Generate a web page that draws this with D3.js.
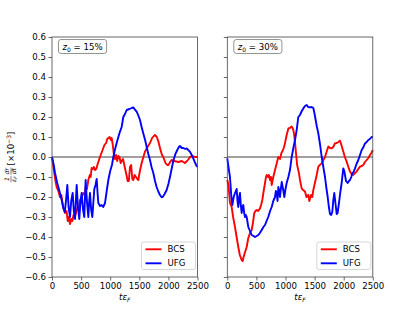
<!DOCTYPE html>
<html>
<head>
<meta charset="utf-8">
<script src="https://cdn.jsdelivr.net/npm/d3@7"></script>
<style>
  html, body { margin: 0; padding: 0; background: #fff; }
  svg { display: block; font-family: "DejaVu Sans", sans-serif; }
</style>
</head>
<body>
<div id="chart"></div>
<script>
// ---- data ----
var xTicks = [0, 500, 1000, 1500, 2000, 2500];
var yTicks = [-0.6, -0.5, -0.4, -0.3, -0.2, -0.1, 0.0, 0.1, 0.2, 0.3, 0.4, 0.5, 0.6];
var panelLabels = ["15%", "30%"];
var seriesNames = ["BCS", "UFG"];
var seriesColors = ["#ff0000", "#0000ff"];

// z0 = 15%
var bcs15 = [[0,0],[30,-0.06],[60,-0.12],[80,-0.15],[110,-0.17],[137,-0.2],[160,-0.19],[190,-0.25],[223,-0.28],[250,-0.27],[270,-0.32],[290,-0.3],[309,-0.335],[330,-0.31],[350,-0.32],[370,-0.29],[395,-0.3],[420,-0.27],[440,-0.25],[460,-0.26],[481,-0.215],[500,-0.23],[520,-0.19],[538,-0.18],[560,-0.19],[580,-0.15],[600,-0.16],[624,-0.115],[650,-0.09],[665,-0.1],[681,-0.055],[700,-0.06],[720,-0.05],[739,-0.065],[760,-0.06],[790,-0.03],[825,0],[850,0.02],[882,0.045],[900,0.06],[930,0.07],[950,0.09],[968,0.095],[990,0.1],[1010,0.085],[1025,0.095],[1045,0.06],[1060,0.02],[1082,-0.01],[1100,0.01],[1120,-0.02],[1140,0.005],[1160,0.0],[1180,-0.03],[1197,-0.02],[1220,-0.01],[1250,-0.05],[1280,-0.09],[1300,-0.12],[1320,-0.12],[1340,-0.05],[1360,-0.04],[1380,-0.11],[1397,-0.115],[1420,-0.09],[1443,-0.1],[1465,-0.11],[1483,-0.115],[1510,-0.07],[1541,-0.03],[1570,0],[1598,0.027],[1640,0.05],[1684,0.07],[1720,0.095],[1750,0.105],[1769,0.11],[1800,0.1],[1826,0.08],[1860,0.04],[1890,0.01],[1912,0],[1950,-0.03],[1980,-0.04],[2000,-0.04],[2030,-0.025],[2055,-0.015],[2100,-0.02],[2170,-0.025],[2230,-0.02],[2284,-0.03],[2320,-0.02],[2350,-0.01],[2370,0],[2420,0.005],[2460,0],[2500,0]];
var ufg15 = [[0,0],[30,-0.04],[52,-0.08],[90,-0.13],[137,-0.18],[170,-0.22],[195,-0.255],[220,-0.275],[240,-0.22],[263,-0.14],[285,-0.25],[309,-0.3],[330,-0.22],[355,-0.18],[375,-0.27],[395,-0.31],[410,-0.22],[424,-0.14],[445,-0.25],[469,-0.31],[490,-0.22],[510,-0.18],[532,-0.26],[555,-0.3],[567,-0.2],[578,-0.115],[600,-0.22],[624,-0.3],[640,-0.22],[653,-0.18],[672,-0.26],[693,-0.3],[712,-0.22],[727,-0.16],[748,-0.14],[768,-0.11],[783,-0.18],[796,-0.23],[825,-0.245],[853,-0.24],[880,-0.25],[911,-0.23],[940,-0.17],[968,-0.115],[1000,-0.07],[1030,-0.04],[1054,0],[1080,0.035],[1111,0.07],[1140,0.1],[1168,0.127],[1197,0.15],[1225,0.2],[1254,0.215],[1283,0.235],[1330,0.24],[1370,0.245],[1397,0.248],[1430,0.235],[1455,0.227],[1480,0.21],[1512,0.185],[1540,0.15],[1569,0.118],[1600,0.085],[1627,0.05],[1655,0.015],[1684,-0.015],[1710,-0.05],[1741,-0.08],[1770,-0.12],[1798,-0.15],[1830,-0.175],[1855,-0.19],[1880,-0.2],[1901,-0.2],[1935,-0.185],[1970,-0.165],[2000,-0.135],[2027,-0.1],[2055,-0.06],[2084,-0.02],[2120,0.015],[2153,0.035],[2180,0.05],[2199,0.055],[2230,0.045],[2256,0.045],[2290,0.04],[2314,0.043],[2340,0.035],[2370,0.027],[2400,0.01],[2427,-0.007],[2460,-0.03],[2485,-0.045],[2500,-0.05]];

// z0 = 30%
var bcs30 = [[0,-0.115],[20,-0.14],[46,-0.23],[75,-0.25],[100,-0.3],[132,-0.35],[160,-0.4],[189,-0.45],[215,-0.49],[247,-0.515],[265,-0.52],[275,-0.505],[300,-0.48],[333,-0.45],[361,-0.405],[390,-0.38],[419,-0.365],[440,-0.33],[464,-0.28],[485,-0.27],[505,-0.265],[530,-0.27],[562,-0.257],[580,-0.24],[601,-0.215],[625,-0.17],[648,-0.13],[665,-0.1],[677,-0.09],[700,-0.1],[715,-0.09],[734,-0.115],[750,-0.1],[763,-0.14],[790,-0.1],[820,-0.065],[850,-0.03],[877,0],[906,-0.01],[930,0.02],[945,0.027],[970,0.045],[992,0.07],[1020,0.11],[1049,0.143],[1075,0.145],[1106,0.152],[1130,0.14],[1146,0.118],[1165,0.07],[1180,0.02],[1200,-0.04],[1232,-0.082],[1249,-0.115],[1278,-0.157],[1300,-0.165],[1335,-0.173],[1360,-0.2],[1392,-0.19],[1410,-0.22],[1421,-0.207],[1440,-0.19],[1460,-0.2],[1478,-0.165],[1505,-0.13],[1536,-0.09],[1564,-0.048],[1590,-0.04],[1622,-0.032],[1650,-0.015],[1679,0],[1710,0.03],[1736,0.052],[1765,0.045],[1793,0.043],[1820,0.05],[1850,0.068],[1880,0.07],[1910,0.075],[1936,0.082],[1960,0.06],[1993,0.027],[2020,0],[2051,-0.023],[2080,-0.05],[2108,-0.073],[2135,-0.085],[2165,-0.09],[2195,-0.08],[2222,-0.073],[2250,-0.06],[2280,-0.048],[2310,-0.045],[2337,-0.04],[2365,-0.025],[2395,-0.015],[2425,-0.005],[2452,0.01],[2475,0.02],[2500,0.035]];
var ufg30 = [[0,-0.007],[20,-0.05],[46,-0.1],[70,-0.2],[86,-0.24],[110,-0.2],[132,-0.18],[161,-0.16],[175,-0.22],[189,-0.25],[205,-0.2],[218,-0.18],[232,-0.24],[247,-0.28],[260,-0.25],[275,-0.24],[290,-0.28],[304,-0.3],[320,-0.29],[333,-0.3],[361,-0.35],[390,-0.37],[419,-0.39],[450,-0.395],[476,-0.4],[505,-0.395],[533,-0.39],[560,-0.38],[591,-0.365],[620,-0.35],[648,-0.34],[675,-0.32],[704,-0.3],[735,-0.27],[763,-0.25],[790,-0.22],[820,-0.2],[835,-0.17],[849,-0.18],[863,-0.22],[877,-0.15],[892,-0.17],[906,-0.2],[920,-0.16],[935,-0.125],[958,-0.16],[980,-0.2],[1000,-0.16],[1020,-0.13],[1049,-0.1],[1077,-0.065],[1106,0],[1135,0.045],[1163,0.085],[1192,0.135],[1220,0.2],[1249,0.21],[1280,0.23],[1306,0.243],[1335,0.255],[1364,0.26],[1390,0.25],[1421,0.248],[1450,0.25],[1478,0.245],[1500,0.215],[1518,0.185],[1540,0.15],[1564,0.118],[1595,0.06],[1622,0],[1650,-0.05],[1679,-0.1],[1700,-0.15],[1725,-0.2],[1745,-0.25],[1765,-0.285],[1785,-0.29],[1804,-0.275],[1820,-0.22],[1838,-0.18],[1858,-0.23],[1879,-0.285],[1895,-0.28],[1919,-0.23],[1940,-0.18],[1965,-0.13],[1993,-0.057],[2010,-0.07],[2040,-0.12],[2068,-0.13],[2090,-0.12],[2108,-0.115],[2130,-0.1],[2148,-0.082],[2170,-0.075],[2194,-0.057],[2220,-0.035],[2251,-0.015],[2280,0.01],[2309,0.035],[2340,0.05],[2366,0.068],[2395,0.075],[2423,0.085],[2450,0.09],[2480,0.1],[2500,0.1]];

var panels = [[bcs15, ufg15], [bcs30, ufg30]];

(function () {
    "use strict";

    var W = 415, H = 311;
    var top = 37, bottom = 277;
    var panelLeft = [52, 227.3];
    var panelWidth = 145.5;
    var axisColor = "#444";
    var fontSize = 8.6;

    var svg = d3.select("#chart").append("svg")
        .attr("width", W)
        .attr("height", H);

    var y = d3.scaleLinear().domain([-0.6, 0.6]).range([bottom, top]);

    panels.forEach(function (series, i) {
        var x0 = panelLeft[i];
        var x = d3.scaleLinear().domain([0, 2500]).range([x0, x0 + panelWidth]);

        var g = svg.append("g");

        // zero reference line
        g.append("line")
            .attr("x1", x(0)).attr("x2", x(2500))
            .attr("y1", y(0)).attr("y2", y(0))
            .attr("stroke", "#808080")
            .attr("stroke-width", 1.3);

        // curves
        var line = d3.line()
            .x(function (d) { return x(d[0]); })
            .y(function (d) { return y(d[1]); });

        series.forEach(function (s, k) {
            g.append("path")
                .datum(s)
                .attr("d", line)
                .attr("fill", "none")
                .attr("stroke", seriesColors[k])
                .attr("stroke-width", 1.9)
                .attr("stroke-linejoin", "round");
        });

        // axes
        var xAxis = g.append("g")
            .attr("transform", "translate(0," + bottom + ")")
            .call(d3.axisBottom(x).tickValues(xTicks).tickSize(3.5).tickPadding(2.5)
                .tickFormat(d3.format("d")));
        var yAxis = g.append("g")
            .attr("transform", "translate(" + x0 + ",0)")
            .call(d3.axisLeft(y).tickValues(yTicks).tickSize(3.5).tickPadding(2.5)
                .tickFormat(i === 0 ? function (d) { return d3.format(".1f")(d).replace("-", "\u2212"); } : ""));

        [xAxis, yAxis].forEach(function (a) {
            a.select(".domain").remove();
            a.selectAll("line").attr("stroke", axisColor).attr("stroke-width", 0.8);
            a.selectAll("text")
                .attr("fill", "#000")
                .attr("font-family", "DejaVu Sans, sans-serif")
                .attr("font-size", fontSize);
        });

        // frame
        g.append("rect")
            .attr("x", x0).attr("y", top)
            .attr("width", panelWidth).attr("height", bottom - top)
            .attr("fill", "none")
            .attr("stroke", axisColor)
            .attr("stroke-width", 0.8);

        // x label  t eps_F
        var xl = g.append("text")
            .attr("x", x0 + panelWidth / 2)
            .attr("y", 300)
            .attr("text-anchor", "middle")
            .attr("font-size", fontSize)
            .attr("font-family", "DejaVu Sans, sans-serif")
            .attr("font-style", "italic");
        xl.append("tspan").text("t\u03b5");
        xl.append("tspan").attr("dy", 2).attr("font-size", 6).text("F");

        // annotation box z0 = ..
        var bx = x0 + 6.5, by = 39.5;
        var box = g.append("g");
        var bt = box.append("text")
            .attr("x", bx + 4)
            .attr("y", by + 10)
            .attr("font-size", fontSize)
            .attr("font-family", "DejaVu Sans, sans-serif");
        bt.append("tspan").attr("font-style", "italic").text("z");
        bt.append("tspan").attr("dy", 2).attr("font-size", 6).text("0");
        bt.append("tspan").attr("dy", -2).text(" = " + panelLabels[i]);
        var bw = bt.node().getComputedTextLength() + 8;
        box.insert("rect", "text")
            .attr("x", bx).attr("y", by)
            .attr("width", bw).attr("height", 14)
            .attr("rx", 2.5)
            .attr("fill", "#fff")
            .attr("stroke", "#888")
            .attr("stroke-width", 0.9);

        // legend
        var lx = x0 + panelWidth - 56, ly = 242;
        var lg = g.append("g");
        lg.append("rect")
            .attr("x", lx).attr("y", ly)
            .attr("width", 54).attr("height", 27.5)
            .attr("rx", 2)
            .attr("fill", "#fff").attr("fill-opacity", 0.8)
            .attr("stroke", "#ccc").attr("stroke-width", 0.8);
        seriesNames.forEach(function (name, k) {
            var yy = ly + 7.3 + k * 14;
            lg.append("line")
                .attr("x1", lx + 4).attr("x2", lx + 20)
                .attr("y1", yy).attr("y2", yy)
                .attr("stroke", seriesColors[k])
                .attr("stroke-width", 1.9);
            lg.append("text")
                .attr("x", lx + 26).attr("y", yy + 3)
                .attr("font-size", fontSize)
                .attr("font-family", "DejaVu Sans, sans-serif")
                .text(name);
        });
    });

    // y label: (1/eps_F)(dr/dt) [x10^-3]
    var yl = svg.append("g");
    var inner = yl.append("g");
    function frac(xPos, num, den, denSub) {
        var n = inner.append("text").attr("x", xPos).attr("y", -1.8)
            .attr("text-anchor", "middle").attr("font-size", 6.2)
            .attr("font-style", "italic").text(num);
        var d = inner.append("text").attr("x", xPos).attr("y", 5.2)
            .attr("text-anchor", "middle").attr("font-size", 6.2)
            .attr("font-style", "italic");
        d.append("tspan").text(den);
        if (denSub) d.append("tspan").attr("dy", 1.2).attr("font-size", 4.4).text(denSub);
        var w = Math.max(n.node().getComputedTextLength(), d.node().getComputedTextLength());
        inner.append("line")
            .attr("x1", xPos - w / 2 - 0.3).attr("x2", xPos + w / 2 + 0.3)
            .attr("y1", 0).attr("y2", 0)
            .attr("stroke", "#000").attr("stroke-width", 0.5);
        return w;
    }
    var w1 = frac(3.5, "1", "\u03b5", "F");
    var w2 = frac(3.5 + w1 / 2 + 5, "dr", "dt");
    var rest = inner.append("text")
        .attr("x", 3.5 + w1 / 2 + 5 + w2 / 2 + 2.5)
        .attr("y", 3)
        .attr("font-size", fontSize);
    rest.append("tspan").text("[\u00d710");
    rest.append("tspan").attr("dy", -3.5).attr("font-size", 6).text("\u22123");
    rest.append("tspan").attr("dy", 3.5).text("]");
    var bb = inner.node().getBBox();
    inner.attr("transform", "translate(" + (-(bb.x + bb.width / 2)) + ",0)");
    yl.attr("transform", "translate(11,157) rotate(-90)");
})();
</script>
</body>
</html>
